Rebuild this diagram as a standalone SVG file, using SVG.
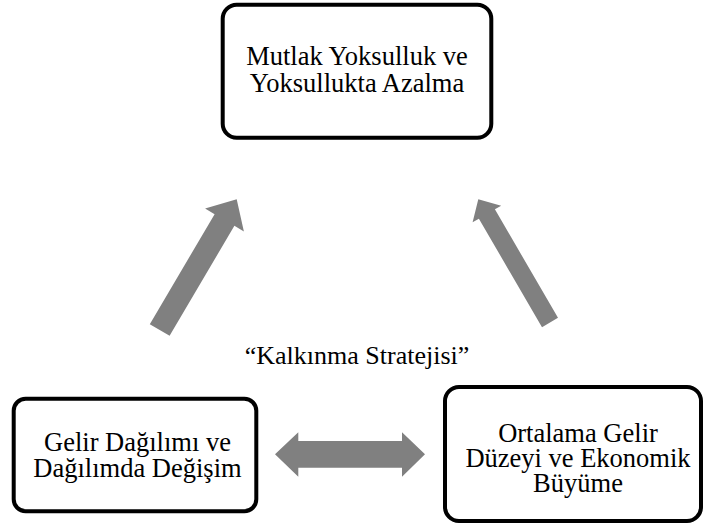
<svg xmlns="http://www.w3.org/2000/svg" width="705" height="525" viewBox="0 0 705 525">
<style>
.box{fill:#fff;stroke:#000;stroke-width:4}
.lbl{font-family:'Liberation Serif','Times New Roman',serif;font-size:26.5px;fill:#000;text-anchor:middle}
.arr{fill:#808080;stroke:none}
</style>
<rect width="705" height="525" fill="#fff"/>
<g id="connectors">
<polygon class="arr" points="149.8,324.2 214.6,214.2 205.1,208.6 236.7,199.3 243.9,231.4 234.4,225.8 169.6,335.8"/>
<polygon class="arr" points="542.0,327.2 478.9,218.7 472.6,222.3 478.3,199.3 501.2,205.7 494.9,209.3 558.0,317.8"/>
<polygon class="arr" points="275,454.3 298.3,432.3 298.3,441 402,441 402,432.3 425,454.3 402,476.7 402,467.7 298.3,467.7 298.3,476.7"/>
</g>
<g id="node-top">
<rect class="box" x="222.7" y="4.7" width="268.6" height="133" rx="14"/>
<text class="lbl" x="357" y="65">Mutlak Yoksulluk ve</text>
<text class="lbl" x="357" y="91.7">Yoksullukta Azalma</text>
</g>
<g id="node-left">
<rect class="box" x="13.7" y="398.7" width="242.6" height="112.6" rx="12"/>
<text class="lbl" x="137.5" y="450.7">Gelir Dağılımı ve</text>
<text class="lbl" x="137.5" y="476.7">Dağılımda Değişim</text>
</g>
<g id="node-right">
<rect class="box" x="445" y="387" width="256" height="134" rx="14"/>
<text class="lbl" x="578" y="442">Ortalama Gelir</text>
<text class="lbl" x="578" y="467">Düzeyi ve Ekonomik</text>
<text class="lbl" x="578" y="492">Büyüme</text>
</g>
<g id="label-strategy">
<text class="lbl" style="font-size:26px" x="357" y="364">“Kalkınma Stratejisi”</text>
</g>
</svg>
